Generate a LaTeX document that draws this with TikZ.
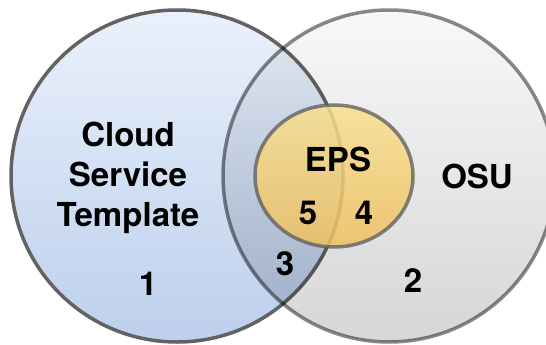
\documentclass[tikz,border=0pt]{standalone}
\usepackage{fontspec}
\setmainfont{TeX Gyre Heros}
\usetikzlibrary{shapes.geometric}
\definecolor{ctsTop}{HTML}{EAF1FC}
\definecolor{ctsBot}{HTML}{BCCFEC}
\definecolor{osuTop}{HTML}{F8F8F8}
\definecolor{osuBot}{HTML}{D6D6D6}
\definecolor{epsTop}{HTML}{F9E08E}
\definecolor{epsBot}{HTML}{EFC060}
\definecolor{rim}{HTML}{626262}

\begin{document}
\begin{tikzpicture}[
		x=1pt,y=-1pt,
		set/.style={circle,draw=rim,line width=3.5pt,inner sep=0pt,minimum size=332pt},
		core/.style={ellipse,draw=rim,draw opacity=0.8,line width=3.5pt,inner sep=0pt,
			minimum width=158pt,minimum height=142pt,fill opacity=0.85},
		label/.style={font=\fontsize{33}{40}\selectfont\bfseries,align=center,inner sep=0pt}
		]
		\useasboundingbox (0,0) rectangle (546,345);
		\clip (0,0) rectangle (546,345);
		\node[set,top color=ctsTop,bottom color=ctsBot] (cts) at (177,176) {};
		\node[set,top color=osuTop,bottom color=osuBot,blend mode=multiply,draw opacity=0.75] (osu) at (389,176) {};
		\node[core,top color=epsTop,bottom color=epsBot] (eps) at (334,176) {};
		
		\node[label] (ctsname) at (128,178) {Cloud\\Service\\Template};
		\node[label] (osuname) at (477,176) {OSU};
		\node[label] (epsname) at (338,159) {EPS};
		\node[label] (r1) at (148,284) {1};
		\node[label] (r2) at (413,281) {2};
		\node[label] (r3) at (285,264) {3};
		\node[label] (r4) at (364,213) {4};
		\node[label] (r5) at (308,213) {5};
	\end{tikzpicture}
\end{document}
